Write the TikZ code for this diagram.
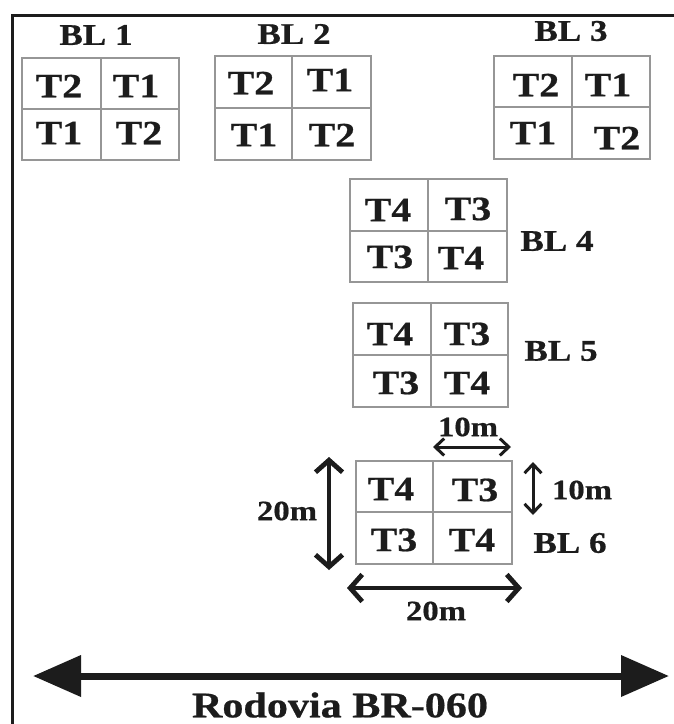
\documentclass[tikz,border=0pt]{standalone}
\usepackage{fontspec}
\setmainfont{Liberation Serif}[FakeStretch=1.17, BoldFeatures={FakeBold=0.6}]
\usetikzlibrary{arrows.meta}
\definecolor{ink}{RGB}{28,28,28}
\definecolor{gridgray}{RGB}{150,150,150}
\tikzset{
  plot/.style={draw=gridgray, line width=1.2pt},
  trt/.style={text=ink, font=\fontsize{34}{34}\selectfont\bfseries, inner sep=0pt},
  blk/.style={text=ink, font=\fontsize{30}{30}\selectfont\bfseries, inner sep=0pt},
  meas/.style={text=ink, font=\fontsize{28}{28}\selectfont\bfseries, inner sep=0pt},
  dimthin/.style={draw=ink, line width=3pt, {Straight Barb[length=9pt,width=17pt,line width=3pt]}-{Straight Barb[length=9pt,width=17pt,line width=3pt]}},
  dimthick/.style={draw=ink, line width=4.8pt, {Straight Barb[length=12pt,width=27pt,line width=4.8pt]}-{Straight Barb[length=12pt,width=27pt,line width=4.8pt]}},
  road/.style={draw=ink, line width=7pt, {Triangle[length=48pt,width=40pt]}-{Triangle[length=48pt,width=40pt]}},
}
\newcommand{\plotbox}[6]{% x1 y1 x2 y2 xdiv ydiv
  \draw[plot] (#1,#2) rectangle (#3,#4);
  \draw[plot] (#5,#2) -- (#5,#4);
  \draw[plot] (#1,#6) -- (#3,#6);
}
\begin{document}
\begin{tikzpicture}[x=1pt,y=-1pt]
\useasboundingbox[fill=white] (0,0) rectangle (674,724);
% frame
\draw[ink, line width=3pt] (12.5,724) -- (12.5,15.5) -- (674,15.5);

% blocks
\plotbox{22}{58}{179}{160}{101}{109}
\plotbox{215}{56}{371}{160}{292}{108}
\plotbox{494}{56}{650}{159}{572}{107}
\plotbox{350}{179}{507}{282}{428}{231}
\plotbox{353}{303}{508}{407}{431}{355}
\plotbox{356}{461}{512}{564}{433}{512}

% block labels
\node[blk] (bl1) at (96,35) {BL 1};
\node[blk] (bl2) at (294,34) {BL 2};
\node[blk] (bl3) at (571,31) {BL 3};
\node[blk] (bl4) at (557,241) {BL 4};
\node[blk] (bl5) at (561,351) {BL 5};
\node[blk] (bl6) at (570,543) {BL 6};

% BL1
\node[trt] (a11) at (59,86) {T2};
\node[trt] (a12) at (136,86) {T1};
\node[trt] (a21) at (59,133) {T1};
\node[trt] (a22) at (139,133) {T2};
% BL2
\node[trt] (b11) at (251,83) {T2};
\node[trt] (b12) at (330,80) {T1};
\node[trt] (b21) at (254,135) {T1};
\node[trt] (b22) at (332,135) {T2};
% BL3
\node[trt] (c11) at (536,85) {T2};
\node[trt] (c12) at (608,85) {T1};
\node[trt] (c21) at (533,133) {T1};
\node[trt] (c22) at (617,138) {T2};
% BL4
\node[trt] (d11) at (388,210) {T4};
\node[trt] (d12) at (468,209) {T3};
\node[trt] (d21) at (390,257) {T3};
\node[trt] (d22) at (461,258) {T4};
% BL5
\node[trt] (e11) at (390,334) {T4};
\node[trt] (e12) at (467,334) {T3};
\node[trt] (e21) at (396,383) {T3};
\node[trt] (e22) at (467,383) {T4};
% BL6
\node[trt] (f11) at (391,489) {T4};
\node[trt] (f12) at (475,490) {T3};
\node[trt] (f21) at (394,540) {T3};
\node[trt] (f22) at (472,540) {T4};

% dimensions
\coordinate (h10a) at (433,447);
\coordinate (h10b) at (511,447);
\draw[dimthin] (h10a) -- (h10b);
\node[meas] (m10a) at (468,427) {10m};

\coordinate (v10a) at (533,462);
\coordinate (v10b) at (533,515);
\draw[dimthin] (v10a) -- (v10b);
\node[meas] (m10b) at (582,490) {10m};

\coordinate (v20a) at (329,457);
\coordinate (v20b) at (329,570);
\draw[dimthick] (v20a) -- (v20b);
\node[meas] (m20a) at (287,511) {20m};

\coordinate (h20a) at (347,588);
\coordinate (h20b) at (522,588);
\draw[dimthick] (h20a) -- (h20b);
\node[meas] (m20b) at (436,611) {20m};

% road
\coordinate (ra) at (33,676);
\coordinate (rb) at (669,676);
\draw[road] (ra) -- (rb);
\node[text=ink, font=\fontsize{36}{36}\selectfont\bfseries, inner sep=0pt] (rod) at (340,705) {Rodovia BR-060};
\end{tikzpicture}
\end{document}
